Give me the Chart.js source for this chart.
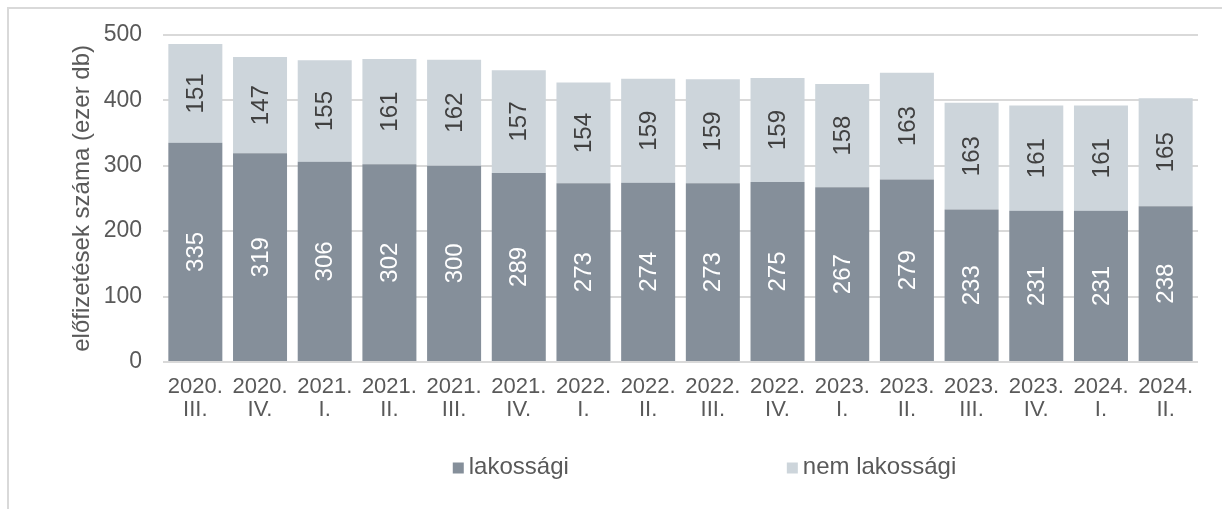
<!DOCTYPE html>
<html>
<head>
<meta charset="utf-8">
<script src="https://cdn.jsdelivr.net/npm/chart.js@4"></script>
<style>
  html, body { margin: 0; padding: 0; background: #fff; overflow: hidden; }
  #wrap { position: relative; width: 1222px; height: 509px; }
  #frame { position: absolute; left: 7px; top: 7px; width: 1400px; height: 700px; border: 2px solid #d9d9d9; box-sizing: border-box; }
  canvas { position: absolute; left: 0; top: 0; }
</style>
</head>
<body>
<div id="wrap">
  <div id="frame"></div>
  <canvas id="chart" width="1222" height="509"></canvas>
</div>
<script>
const categories = [
  ['2020.', 'III.'], ['2020.', 'IV.'],
  ['2021.', 'I.'], ['2021.', 'II.'], ['2021.', 'III.'], ['2021.', 'IV.'],
  ['2022.', 'I.'], ['2022.', 'II.'], ['2022.', 'III.'], ['2022.', 'IV.'],
  ['2023.', 'I.'], ['2023.', 'II.'], ['2023.', 'III.'], ['2023.', 'IV.'],
  ['2024.', 'I.'], ['2024.', 'II.']
];
const lakossagi = [335, 319, 306, 302, 300, 289, 273, 274, 273, 275, 267, 279, 233, 231, 231, 238];
const nemLakossagi = [151, 147, 155, 161, 162, 157, 154, 159, 159, 159, 158, 163, 163, 161, 161, 165];
const yTicks = [0, 100, 200, 300, 400, 500];

const FONT = "'Liberation Sans', Arial, sans-serif";
const TEXT = '#595959';

// values written vertically inside each bar segment
const barLabels = {
  id: 'barLabels',
  afterDatasetsDraw(chart) {
    const ctx = chart.ctx;
    chart.data.datasets.forEach((ds, i) => {
      const meta = chart.getDatasetMeta(i);
      meta.data.forEach((bar, j) => {
        const y = (bar.y + bar.base) / 2;
        ctx.save();
        ctx.translate(bar.x, y);
        ctx.rotate(-Math.PI / 2);
        ctx.font = '24px ' + FONT;
        ctx.fillStyle = ds.labelColor;
        ctx.textAlign = 'center';
        ctx.textBaseline = 'middle';
        ctx.fillText(String(ds.data[j]), 0, 1);
        ctx.restore();
      });
    });
  }
};

// wide legend under the axis, like the original
const wideLegend = {
  id: 'wideLegend',
  afterDraw(chart) {
    const ctx = chart.ctx;
    const box = 11, gapText = 5, gapItems = 218;
    ctx.save();
    ctx.font = '24px ' + FONT;
    ctx.textBaseline = 'middle';
    const items = chart.data.datasets.map(ds => ({
      text: ds.label, color: ds.backgroundColor, w: box + gapText + ctx.measureText(ds.label).width
    }));
    const total = items.reduce((s, it) => s + it.w, 0) + gapItems * (items.length - 1);
    const area = chart.chartArea;
    let x = (area.left + area.right) / 2 + 24 - total / 2;
    const y = 467;
    items.forEach(it => {
      ctx.fillStyle = it.color;
      ctx.fillRect(x, y - box / 2 + 1, box, box);
      ctx.fillStyle = TEXT;
      ctx.fillText(it.text, x + box + gapText, y);
      x += it.w + gapItems;
    });
    ctx.restore();
  }
};

new Chart(document.getElementById('chart'), {
  type: 'bar',
  data: {
    labels: categories,
    datasets: [
      {
        label: 'lakossági',
        data: lakossagi,
        backgroundColor: '#858f9a',
        labelColor: '#ffffff',
        barPercentage: 0.835,
        categoryPercentage: 1
      },
      {
        label: 'nem lakossági',
        data: nemLakossagi,
        backgroundColor: '#cdd5db',
        labelColor: '#404040',
        barPercentage: 0.835,
        categoryPercentage: 1
      }
    ]
  },
  options: {
    responsive: false,
    animation: false,
    layout: { padding: { left: 0, right: 24, top: 31, bottom: 0 } },
    plugins: {
      legend: { display: false },
      tooltip: { enabled: false }
    },
    scales: {
      x: {
        stacked: true,
        grid: { display: false, drawTicks: false },
        border: { display: false },
        ticks: { color: TEXT, font: { family: FONT, size: 22, lineHeight: 1.05 }, padding: 13, maxRotation: 0, autoSkip: false },
        afterFit(scale) { scale.height = 147; }
      },
      y: {
        stacked: true,
        min: yTicks[0],
        max: yTicks[yTicks.length - 1],
        grid: { color: '#d9d9d9', lineWidth: 2, drawTicks: false },
        border: { display: false },
        afterBuildTicks(scale) { scale.ticks = yTicks.map(v => ({ value: v })); },
        ticks: { color: TEXT, font: { family: FONT, size: 23 }, padding: 21 },
        title: {
          display: true,
          text: 'előfizetések száma (ezer db)',
          color: TEXT,
          font: { family: FONT, size: 24, lineHeight: 1.2 },
          padding: { top: 68, bottom: 0 }
        },
        afterFit(scale) { scale.width = 163; }
      }
    }
  },
  plugins: [barLabels, wideLegend]
});
</script>
</body>
</html>
